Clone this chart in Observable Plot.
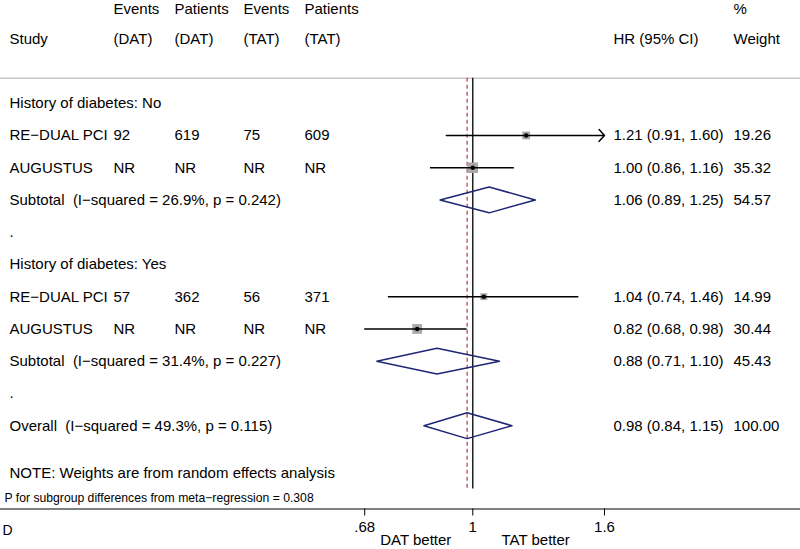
<!DOCTYPE html>
<html><head><meta charset="utf-8">
<script src="https://cdn.jsdelivr.net/npm/d3@7"></script>
<script src="https://cdn.jsdelivr.net/npm/@observablehq/plot@0.6"></script>
<style>html,body{margin:0;padding:0;background:#fff} #chart svg{display:block}</style>
</head><body><div id="chart"></div>
<script>
// ---- data ----
const rowLabels = [
  "History of diabetes: No",
  "RE\u2212DUAL PCI",
  "AUGUSTUS",
  "Subtotal\u00a0\u00a0(I\u2212squared = 26.9%, p = 0.242)",
  ".",
  "History of diabetes: Yes",
  "RE\u2212DUAL PCI",
  "AUGUSTUS",
  "Subtotal\u00a0\u00a0(I\u2212squared = 31.4%, p = 0.227)",
  ".",
  "Overall\u00a0\u00a0(I\u2212squared = 49.3%, p = 0.115)"
];
const rowKind    = ["group","study","study","subtotal","gap","group","study","study","subtotal","gap","overall"];
const eventsDAT   = ["", "92",  "NR", "", "", "", "57",  "NR", "", "", ""];
const patientsDAT = ["", "619", "NR", "", "", "", "362", "NR", "", "", ""];
const eventsTAT   = ["", "75",  "NR", "", "", "", "56",  "NR", "", "", ""];
const patientsTAT = ["", "609", "NR", "", "", "", "371", "NR", "", "", ""];
const hr     = [null, 1.21, 1.00, 1.06, null, null, 1.04, 0.82, 0.88, null, 0.98];
const ciLow  = [null, 0.91, 0.86, 0.89, null, null, 0.74, 0.68, 0.71, null, 0.84];
const ciHigh = [null, 1.60, 1.16, 1.25, null, null, 1.46, 0.98, 1.10, null, 1.15];
const weight = [null, 19.26, 35.32, 54.57, null, null, 14.99, 30.44, 45.43, null, 100.00];
const headerTop    = ["", "Events", "Patients", "Events", "Patients", "", "%"];
const headerBottom = ["Study", "(DAT)", "(DAT)", "(TAT)", "(TAT)", "HR (95% CI)", "Weight"];
const tickValues = [0.68, 1, 1.6];
const tickLabels = [".68", "1", "1.6"];
const sideLabels = ["DAT better", "TAT better"];
const noteText = "NOTE: Weights are from random effects analysis";
const pText = "P for subgroup differences from meta\u2212regression = 0.308";
const panelLetter = "D";

// ---- layout (not data) ----
const colX = [9, 113, 174, 243, 304, 613, 733];
const headerRows = [-2.92, -2];
const topLineRow = -0.77, lineEndRow = 11.96, noteRow = 11.48, pRow = 12.25;
const axisRow = 12.583, letterRow = 13.25, sideRow = 13.56, dh = 0.4;
const xMin = tickValues[0], xMax = tickValues[tickValues.length - 1];
const font = "'Liberation Sans', Arial, Helvetica, sans-serif";

const rows = rowLabels.map((label, i) => ({
  row: i, label, kind: rowKind[i],
  eD: eventsDAT[i], pD: patientsDAT[i], eT: eventsTAT[i], pT: patientsTAT[i],
  hr: hr[i], lo: ciLow[i], hi: ciHigh[i], w: weight[i],
  hrText: hr[i] == null ? "" : `${hr[i].toFixed(2)} (${ciLow[i].toFixed(2)}, ${ciHigh[i].toFixed(2)})`,
  wText: weight[i] == null ? "" : weight[i].toFixed(2)
}));
const studies = rows.filter(d => d.kind === "study");
const pooled = rows.filter(d => d.kind === "subtotal" || d.kind === "overall");
const overall = rows.find(d => d.kind === "overall");
const diamondPts = pooled.flatMap(d => [
  {id: d.row, x: d.lo, y: d.row},
  {id: d.row, x: d.hr, y: d.row - dh},
  {id: d.row, x: d.hi, y: d.row},
  {id: d.row, x: d.hr, y: d.row + dh}
]);
const headers = headerTop.map((t, j) => ({j, top: t, bottom: headerBottom[j]}));
const fields = ["label", "eD", "pD", "eT", "pT", "hrText", "wText"];

const marks = [
  Plot.ruleY([topLineRow], {stroke: "#c8c8c8", strokeWidth: 1.5}),
  Plot.ruleY([axisRow], {stroke: "black", strokeWidth: 1.2}),
  Plot.ruleX([overall.hr], {y1: topLineRow, y2: lineEndRow, stroke: "#b22a2a", strokeWidth: 1.1, strokeDasharray: "4,3"}),
  Plot.ruleX([1], {y1: topLineRow, y2: lineEndRow, stroke: "black", strokeWidth: 1.3}),
  Plot.dot(studies, {x: "hr", y: "row", r: "w", symbol: "square", fill: "#a9a9a9"}),
  Plot.ruleY(studies.filter(d => d.hi < xMax), {y: "row", x1: "lo", x2: "hi", stroke: "black", strokeWidth: 1.5}),
  Plot.arrow(studies.filter(d => d.hi >= xMax), {x1: "lo", x2: "hi", y1: "row", y2: "row", stroke: "black", strokeWidth: 1.5, headLength: 8, headAngle: 95}),
  Plot.dot(studies, {x: "hr", y: "row", r: 2.2, fill: "black"}),
  Plot.line(diamondPts, {x: "x", y: "y", z: "id", curve: "linear-closed", stroke: "#1f2673", strokeWidth: 1.5}),
  ...headers.map(h => Plot.text([h], {y: headerRows[0], text: "top", frameAnchor: "left", dx: colX[h.j], textAnchor: "start"})),
  ...headers.map(h => Plot.text([h], {y: headerRows[1], text: "bottom", frameAnchor: "left", dx: colX[h.j], textAnchor: "start"})),
  ...fields.map((f, j) => Plot.text(rows, {y: "row", text: f, frameAnchor: "left", dx: colX[j], textAnchor: "start"})),
  Plot.text([noteText], {y: noteRow, text: d => d, frameAnchor: "left", dx: colX[0], textAnchor: "start"}),
  Plot.text([pText], {y: pRow, text: d => d, frameAnchor: "left", dx: 4, textAnchor: "start", fontSize: 12.2}),
  Plot.text([panelLetter], {y: letterRow, text: d => d, frameAnchor: "left", dx: 2, textAnchor: "start", fontSize: 14}),
  Plot.text(sideLabels, {x: (d, i) => i === 0 ? Math.sqrt(xMin) : Math.sqrt(xMax), y: sideRow, text: d => d, textAnchor: "middle", dx: -3})
];

const chart = Plot.plot({
  width: 800, height: 549,
  marginTop: 0, marginLeft: 0, marginRight: 0, marginBottom: 40.5,
  style: {fontFamily: font, fontSize: "15px", color: "black", background: "white"},
  x: {type: "log", domain: [xMin, xMax], range: [364.2, 604], ticks: tickValues,
      tickFormat: d => tickLabels[tickValues.indexOf(d)], tickSize: 7, tickPadding: 5, label: null},
  y: {type: "linear", domain: [0, 10], range: [102.7, 425.2], axis: null},
  r: {type: "sqrt", domain: [0, 100], range: [0, 10]},
  marks
});
document.getElementById("chart").appendChild(chart);
</script>
</body></html>
